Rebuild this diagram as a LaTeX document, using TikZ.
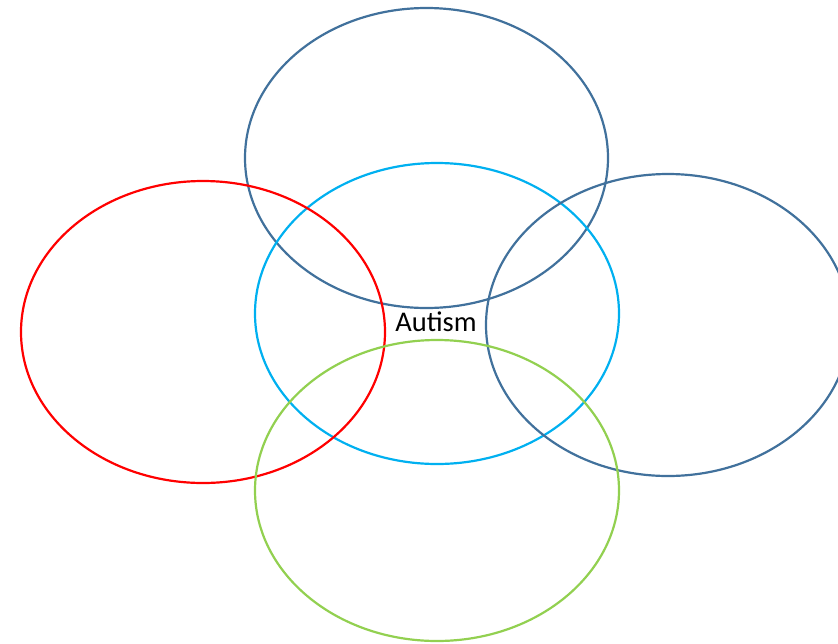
\documentclass[tikz,border=0pt]{standalone}
\usepackage{fontspec}
\setmainfont{Carlito}
\definecolor{dblue}{HTML}{41719C}
\definecolor{cyanc}{HTML}{00B0F0}
\definecolor{redc}{HTML}{FF0000}
\definecolor{greenc}{HTML}{92D050}
\begin{document}
\begin{tikzpicture}[x=1pt,y=-1pt,
  ring/.style={line width=2.2pt}]
\useasboundingbox (0,0) rectangle (838,643);
\clip (0,0) rectangle (838,643);
\draw[ring,dblue] (426.5,158) ellipse [x radius=181.5, y radius=150];
\draw[ring,cyanc] (437,313.5) ellipse [x radius=182, y radius=150.5];
\draw[ring,redc] (203,332) ellipse [x radius=182, y radius=151];
\draw[ring,dblue] (668,325) ellipse [x radius=182, y radius=151];
\draw[ring,greenc] (437,490.5) ellipse [x radius=182, y radius=150.5];
\node[font=\fontsize{28.5}{34}\selectfont, inner sep=0pt, anchor=base] (autism) at (436,331) {Autism};
\end{tikzpicture}
\end{document}
